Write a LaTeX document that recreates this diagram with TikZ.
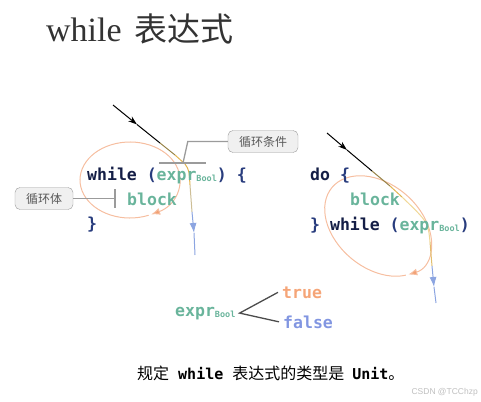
\documentclass[tikz,border=0pt]{standalone}
\usepackage{fontspec}
\setmainfont{Liberation Serif}
\setmonofont{DejaVu Sans Mono}
\newfontfamily\cjk{Noto Sans CJK SC}
\newfontfamily\wmfont{Liberation Sans}
\usetikzlibrary{arrows.meta}
\definecolor{kwblue}{RGB}{20,30,70}
\definecolor{parblue}{RGB}{40,60,125}
\definecolor{codegreen}{RGB}{105,180,155}
\definecolor{loopor}{RGB}{246,190,160}
\definecolor{tipor}{RGB}{242,160,115}
\definecolor{exitblue}{RGB}{140,165,225}
\definecolor{truecol}{RGB}{245,165,120}
\definecolor{falsecol}{RGB}{130,150,225}
\definecolor{boxgray}{RGB}{155,155,155}
\newcommand{\codefont}{\ttfamily\bfseries\fontsize{16.5}{20}\selectfont}
\newcommand{\capcode}[1]{{\ttfamily\bfseries\fontsize{15}{15}\selectfont #1}}
\newcommand{\kw}[1]{\textcolor{kwblue}{#1}}
\newcommand{\pa}[1]{\textcolor{parblue}{#1}}
\newcommand{\gr}[1]{\textcolor{codegreen}{#1}}
\newcommand{\bexpr}{\gr{expr}\raisebox{-1.5pt}{\fontsize{8.5}{8.5}\selectfont\gr{Bool}}}
\tikzset{
  code/.style={anchor=base west, inner sep=0pt, font=\codefont},
  lbl/.style={draw=boxgray, fill=gray!12, rounded corners=5pt, text=gray!70!black,
    font=\cjk\fontsize{12}{12}\selectfont, minimum height=22pt, inner sep=0pt},
  pointer/.style={draw=boxgray, line width=1.3pt},
  loop/.style={draw=loopor, line width=1pt, -{Latex[length=9pt,width=7pt,fill=tipor]}},
  flow/.style={line width=1pt},
}
\begin{document}
\begin{tikzpicture}[x=1pt,y=-1pt]
\useasboundingbox (0,0) rectangle (481,401);
% Titulo
\node[anchor=base west, inner sep=0pt, text=black!80, font=\fontsize{34}{34}\selectfont] (tw) at (46,42) {while};
\node[anchor=base west, inner sep=0pt, text=black!80, font=\cjk\fontsize{33}{33}\selectfont] (tc) at (134,42) {表达式};
% Bucle while
\begin{scope}[shift={(130,180)}]
  \draw[loop] (68:50 and 38) arc[start angle=68, end angle=425, x radius=50, y radius=38];
\end{scope}
\draw[flow, black, -{Stealth[length=9pt,width=6pt]}] (113,105) -- (137,124.5);
\draw[flow, black] (137,124.5) -- (160,143);
\draw[flow, color={rgb,255:red,150;green,130;blue,70}] (160,143) -- (175,155);
\draw[flow, color={rgb,255:red,225;green,180;blue,80}] (175,155) -- (185,164) .. controls (189,170) .. (190,185);
\draw[flow, color={rgb,255:red,205;green,190;blue,150}] (190,185) -- (192,212);
\draw[flow, exitblue, -{Latex[length=10pt,width=7pt]}] (192,212) -- (194,233);
\draw[flow, exitblue] (194,233) -- (195,255);
\node[code] (w1) at (87,180) {\kw{while} \pa{(}\bexpr\pa{)} \pa{\{}};
\node[code] (w2) at (127,205) {\gr{block}};
\node[code] (w3) at (87,229) {\pa{\}}};
\node[lbl, minimum width=70pt] (cond) at (263,141.5) {循环条件};
\node[lbl, minimum width=58pt] (body) at (44,198.5) {循环体};
\coordinate (bar) at (183,163);
\draw[pointer] (cond.west) -- ++(-40,0) -- (bar);
\draw[pointer] (159,163) -- (206,163);
\draw[pointer] (body.east) -- (115,198.5);
\draw[pointer] (115,189) -- (115,208);
% Bucle do-while
\begin{scope}[shift={(378,226)}, rotate=-40]
  \draw[loop] (28:60 and 42) arc[start angle=28, end angle=385, x radius=60, y radius=42];
\end{scope}
\draw[flow, black, -{Stealth[length=9pt,width=6pt]}] (327,133) -- (347,150);
\draw[flow, black] (347,150) -- (372,171);
\draw[flow, color={rgb,255:red,150;green,130;blue,70}] (372,171) -- (390,186);
\draw[flow, color={rgb,255:red,225;green,180;blue,80}] (390,186) -- (402,197);
\draw[flow, color={rgb,255:red,240;green,215;blue,150}] (402,197) .. controls (428,222) .. (430,242);
\draw[flow, color={rgb,255:red,225;green,190;blue,110}] (430,242) -- (432,266);
\draw[flow, exitblue, -{Latex[length=10pt,width=7pt]}] (432,266) -- (434,287);
\draw[flow, exitblue] (434,287) -- (436,303);
\node[code] (d1) at (310,180) {\kw{do} \pa{\{}};
\node[code] (d2) at (350,205) {\gr{block}};
\node[code] (d3) at (310,230) {\pa{\}} \kw{while} \pa{(}\bexpr\pa{)}};
% Expresion booleana
\node[code] (eb) at (175,316) {\bexpr};
\node[code] (tr) at (282,298) {\textcolor{truecol}{true}};
\node[code] (fa) at (283,328) {\textcolor{falsecol}{false}};
\draw[line width=1.3pt, black!70] ([xshift=-4pt]tr.west) -- ([xshift=4pt]eb.east) -- ([xshift=-4pt]fa.west);
% Pie
\node[anchor=base west, inner sep=0pt, font=\cjk\fontsize{16}{16}\selectfont] (cap) at (137,379)
  {规定\hspace{9pt}\capcode{while}\hspace{9pt}表达式的类型是\hspace{8pt}\capcode{Unit}。};
\node[anchor=base east, inner sep=0pt, text=gray!50, font=\wmfont\fontsize{8.5}{8.5}\selectfont] (wm) at (478,394) {CSDN @TCChzp};
\end{tikzpicture}
\end{document}
